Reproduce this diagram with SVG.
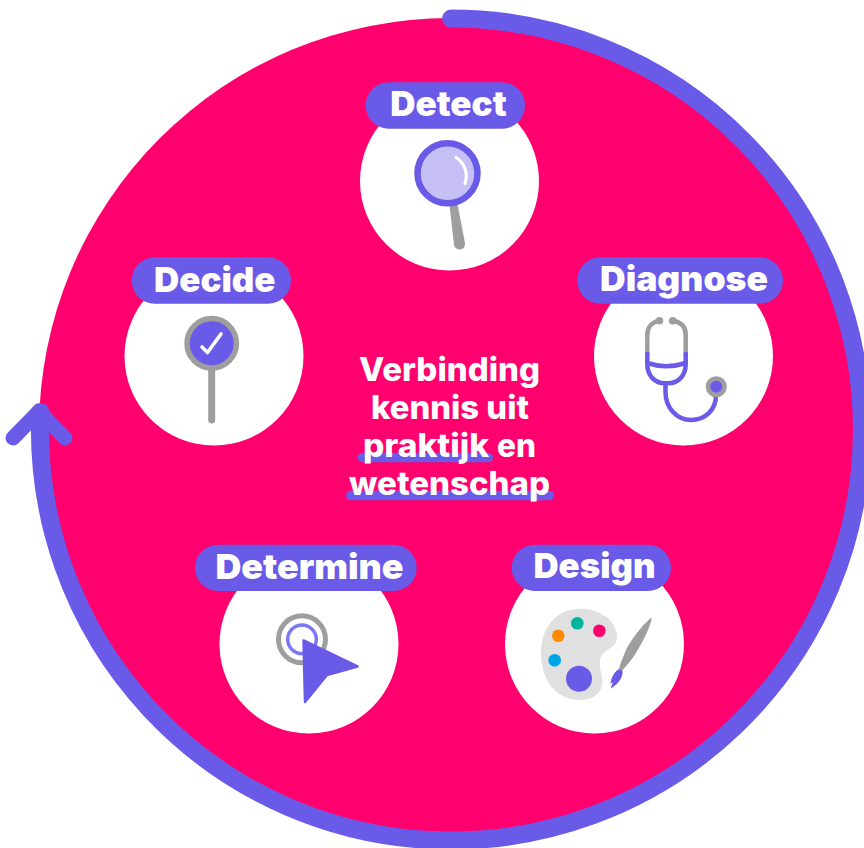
<svg xmlns="http://www.w3.org/2000/svg" width="864" height="848" viewBox="0 0 864 848">
<style>
.disc{fill:#fff}
.pill{fill:#6a5ae8}
.lab{font-family:Inter,"Liberation Sans",sans-serif;font-weight:900;fill:#fff;font-size:34px;text-anchor:start}
.mid{font-family:Inter,"Liberation Sans",sans-serif;font-weight:800;fill:#fff;font-size:32.500px;text-anchor:start}
.g{fill:none;stroke:#9e9e9e;stroke-linecap:round;stroke-linejoin:round}
.p{fill:none;stroke:#6a5ae8;stroke-linecap:round;stroke-linejoin:round}
</style>
<rect width="864" height="848" fill="#fff"/>
<circle id="background" cx="450.500" cy="429.500" r="411.500" fill="#ff006e"/>
<g id="connectors">
<path class="p" stroke-width="18" d="M451 18.500A411 411 0 1 1 40.300 412"/>
<path class="p" stroke-width="15" d="M13 438L39 411.500L65 438"/>
</g>
<g id="center-text">
<rect class="pill" x="357.700" y="452.700" width="135.300" height="9.600" rx="4.800"/>
<rect class="pill" x="346" y="490.700" width="208" height="9.600" rx="4.800"/>
<text class="mid" x="359" y="381" textLength="181" lengthAdjust="spacingAndGlyphs">Verbinding</text>
<text class="mid" x="371" y="419" textLength="158" lengthAdjust="spacingAndGlyphs">kennis uit</text>
<text class="mid" x="363" y="457" textLength="126" lengthAdjust="spacingAndGlyphs">praktijk</text>
<text class="mid" x="497" y="457" textLength="39" lengthAdjust="spacingAndGlyphs">en</text>
<text class="mid" x="349" y="495" textLength="201" lengthAdjust="spacingAndGlyphs">wetenschap</text>
</g>
<g id="detect">
<circle class="disc" cx="449.500" cy="181" r="89.500"/>
<rect class="pill" x="365.700" y="82.300" width="159.300" height="46.400" rx="23.200"/>
<text class="lab" x="390.200" y="116" textLength="116.500" lengthAdjust="spacingAndGlyphs">Detect</text>
<path d="M449.500 205L457.500 204L465 243A5.500 5.500 0 0 1 454 245Z" fill="#9e9e9e"/>
<circle cx="447.500" cy="173.300" r="30" fill="#c5bff6" stroke="#6a5ae8" stroke-width="6.500"/>
<path d="M456 157.500A22 22 0 0 1 465 183.500" fill="none" stroke="#fff" stroke-width="3.200" stroke-linecap="round"/>
</g>
<g id="diagnose">
<circle class="disc" cx="683.500" cy="356" r="89.500"/>
<rect class="pill" x="577.300" y="257.300" width="205.700" height="46.400" rx="23.200"/>
<text class="lab" x="600" y="291" textLength="168" lengthAdjust="spacingAndGlyphs">Diagnose</text>
<path class="g" stroke-width="4.500" d="M647.300 354V335C647.300 327 652 322 659 320.700M685.700 354V335C685.700 327 681 322 673 320.700"/>
<circle cx="659.500" cy="320.700" r="3.800" fill="#9e9e9e"/>
<circle cx="672.700" cy="320.700" r="3.800" fill="#9e9e9e"/>
<path class="p" stroke-width="4.500" d="M647.300 354V364C647.300 376 655 383.300 665 383.300H668C678 383.300 685.700 376 685.700 364V354M647.300 363Q666.500 369.500 685.700 363M665.500 383.300V392C665.500 408 677 420 691 420C705 420 716 410 716 395"/>
<circle cx="716.300" cy="386.700" r="8.300" fill="#6a5ae8" stroke="#9e9e9e" stroke-width="4.500"/>
</g>
<g id="design">
<circle class="disc" cx="594.500" cy="644" r="89.500"/>
<rect class="pill" x="511.700" y="544.700" width="159.300" height="46.400" rx="23.200"/>
<text class="lab" x="533.500" y="578" textLength="122" lengthAdjust="spacingAndGlyphs">Design</text>
<path d="M580 608.700C602 608.700 617 622 617 637C617 650 603 647 600 660C598 670 604 676 602 686C599 697 588 700 580 700C556 700 541 680 541 653C541 628 556 608.700 580 608.700Z" fill="#e0e0e0"/>
<circle cx="577.300" cy="623.300" r="6.300" fill="#00b59c"/>
<circle cx="599.300" cy="630.700" r="6.300" fill="#ff006e"/>
<circle cx="558.300" cy="635.700" r="6.300" fill="#ff8a00"/>
<circle cx="554.700" cy="660.300" r="6.300" fill="#00a5e8"/>
<circle cx="579" cy="678.700" r="13" fill="#6a5ae8"/>
<path d="M651.800 617.500C645 622 632 638 626 650C623 657 620 664 619 669L622 671C626 666 632 660 637 651C644 640 651 625 651.800 617.500Z" fill="#9e9e9e"/>
<path d="M619 669L622.500 671C623 677 619 684 610.500 688.500L613 682L610.500 684C611 678 614 672 619 669Z" fill="#6a5ae8"/>
</g>
<g id="determine">
<circle class="disc" cx="309" cy="644" r="89.500"/>
<rect class="pill" x="195" y="544.700" width="221.700" height="46.400" rx="23.200"/>
<text class="lab" x="215.500" y="578.500" textLength="188" lengthAdjust="spacingAndGlyphs">Determine</text>
<circle cx="302" cy="639.300" r="23.500" fill="none" stroke="#9e9e9e" stroke-width="5"/>
<circle cx="302" cy="639.300" r="14.300" fill="none" stroke="#7b78f5" stroke-width="3.500"/>
<path d="M303.500 640.500L357.500 666.500L327 675L305 702Z" fill="#6a5ae8" stroke="#6a5ae8" stroke-width="2.500" stroke-linejoin="round"/>
</g>
<g id="decide">
<circle class="disc" cx="214" cy="356" r="89.500"/>
<rect class="pill" x="131.700" y="257.300" width="159.300" height="46.400" rx="23.200"/>
<text class="lab" x="154" y="291.500" textLength="121.500" lengthAdjust="spacingAndGlyphs">Decide</text>
<path class="g" stroke-width="7" d="M211.700 368V420"/>
<circle cx="211.700" cy="343.300" r="24.700" fill="#6a5ae8" stroke="#9e9e9e" stroke-width="5.500"/>
<path d="M202 347L207.500 352.500L221 334" fill="none" stroke="#fff" stroke-width="3.600" stroke-linecap="round" stroke-linejoin="round"/>
</g>
</svg>
